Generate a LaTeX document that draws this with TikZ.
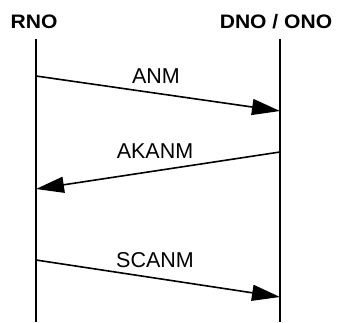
\documentclass[tikz,border=0pt]{standalone}
\usepackage{fontspec}
\setmainfont{Liberation Sans}
\newfontfamily\headfont[FakeStretch=1.08]{Liberation Sans Bold}
\usetikzlibrary{arrows.meta}
\begin{document}
\begin{tikzpicture}[x=1pt,y=-1pt,
  party/.style={inner sep=0pt,anchor=base,font=\headfont\fontsize{19.5}{19.5}\selectfont},
  msglabel/.style={inner sep=0pt,anchor=base,font=\fontsize{21.5}{21.5}\selectfont},
  lifeline/.style={line width=1.7pt},
  msg/.style={line width=1.6pt,-{Triangle[length=28pt,width=16pt]}}]
\useasboundingbox (0,0) rectangle (338,322);
% participants
\node[party] (rno) at (34,28.5) {RNO};
\node[party] (dno) at (276,28.5) {DNO / ONO};
% lifelines
\coordinate (lt) at (36,39);
\coordinate (lb) at (36,322);
\coordinate (rt) at (280,39);
\coordinate (rb) at (280,322);
\draw[lifeline] (lt) -- (lb);
\draw[lifeline] (rt) -- (rb);
% message end points
\coordinate (m1s) at (36,76);
\coordinate (m1e) at (280,111);
\coordinate (m2s) at (280,152);
\coordinate (m2e) at (36,189);
\coordinate (m3s) at (36,260);
\coordinate (m3e) at (280,297);
% messages
\draw[msg] (m1s) -- (m1e);
\draw[msg] (m2s) -- (m2e);
\draw[msg] (m3s) -- (m3e);
\node[msglabel] (anm) at (156,83.5) {ANM};
\node[msglabel] (akanm) at (155,158.5) {AKANM};
\node[msglabel] (scanm) at (155,267.5) {SCANM};
\end{tikzpicture}
\end{document}
